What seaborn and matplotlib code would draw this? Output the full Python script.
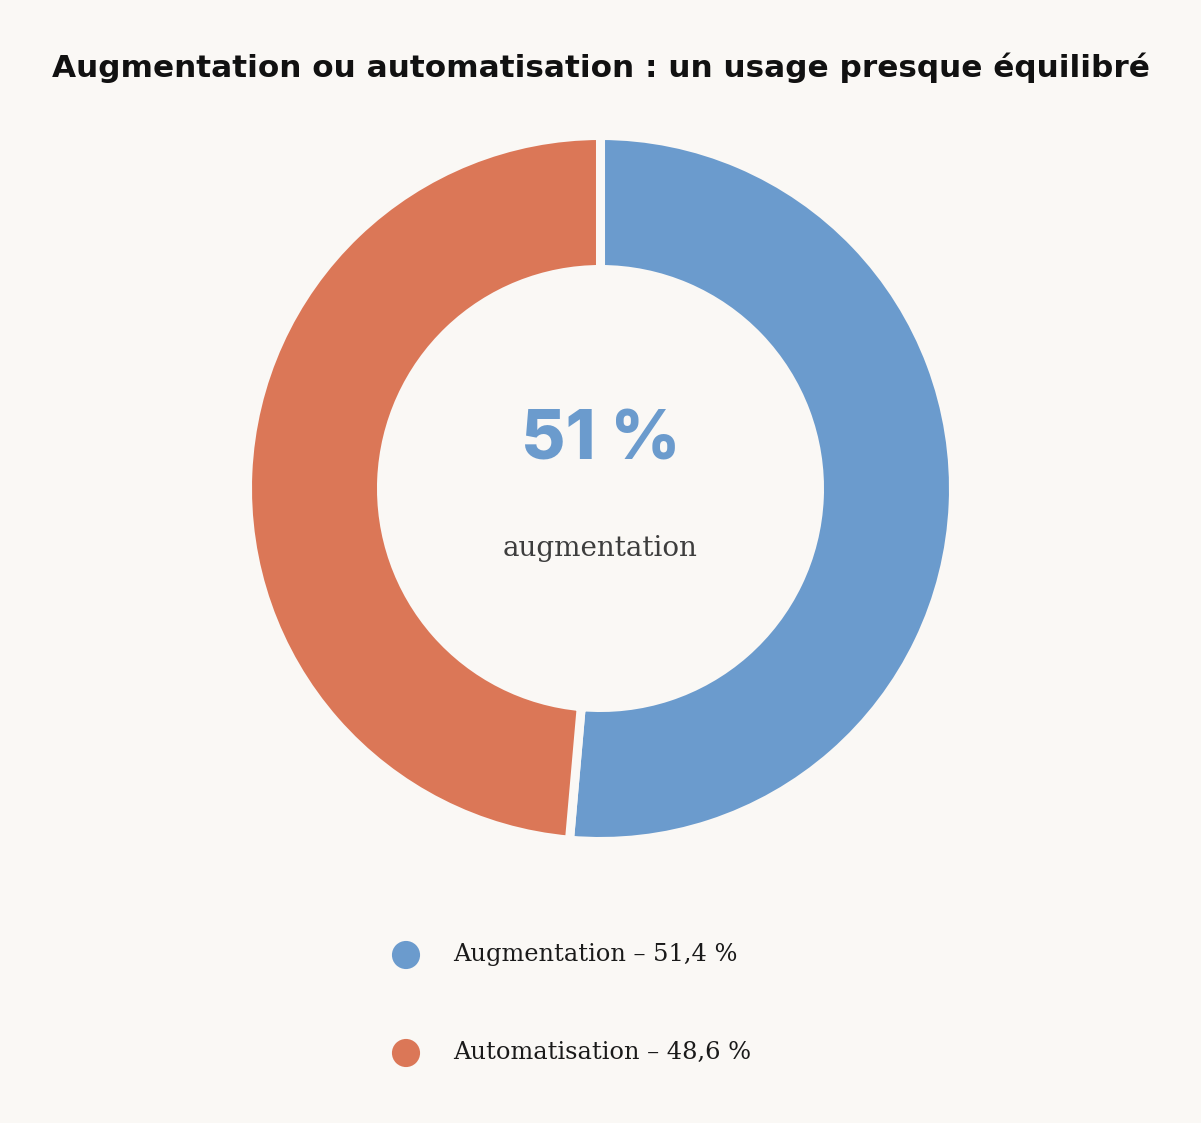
import matplotlib
matplotlib.use("Agg")
import matplotlib.pyplot as plt
import seaborn as sns
import pandas as pd

# ------------------ DATA ------------------
categories = ["Augmentation", "Automatisation"]
shares = [51.4, 48.6]
legend_labels = ["Augmentation – 51,4 %", "Automatisation – 48,6 %"]
center_value = "51 %"
center_label = "augmentation"
title = "Augmentation ou automatisation : un usage presque équilibré"

# ------------------ STYLE ------------------
bg = "#FAF8F5"
colors = ["#6B9BCD", "#DB7757"]
serif = ["DejaVu Serif", "Liberation Serif"]

sns.set_theme(style="white", rc={"figure.facecolor": bg, "axes.facecolor": bg})
plt.rcParams["font.family"] = ["Inter", "DejaVu Sans"]

W, H = 1201, 1123
fig = plt.figure(figsize=(W / 100, H / 100), dpi=100)
ax = fig.add_axes([0, 0, 1, 1])

# pie in pixel-like coords (y measured from bottom); edge stroke eats ~4.5px
cx, cy = 600.5, H - 488.5
r_out = 353
ax.pie(shares, colors=colors, startangle=90, counterclock=False,
       center=(cx, cy), radius=r_out,
       wedgeprops=dict(width=134, edgecolor=bg, linewidth=6.5))

ax.set_xlim(0, W)
ax.set_ylim(0, H)
ax.set_aspect("equal")
ax.axis("off")

# title
ax.text(W / 2, H - 68, title, ha="center", va="center", fontsize=22.4,
        fontweight="bold", color="#111111", family=["DejaVu Sans"])

# centre text
ax.text(cx, H - 442, center_value, ha="center", va="center", fontsize=49,
        fontweight="heavy", color=colors[0])
ax.text(cx, H - 549, center_label, ha="center", va="center", fontsize=20,
        color="#3d3d3d", family=serif)

# legend
leg = pd.DataFrame({"cat": categories, "x": [406, 406], "y": [H - 955, H - 1053]})
sns.scatterplot(data=leg, x="x", y="y", hue="cat", palette=colors, s=410,
                linewidth=0, legend=False, ax=ax)
for (_, row), lab in zip(leg.iterrows(), legend_labels):
    ax.text(453, row["y"] + 1, lab, ha="left", va="center", fontsize=17.4,
            color="#1a1a1a", family=serif)

ax.set_xlim(0, W)
ax.set_ylim(0, H)
ax.axis("off")

fig.savefig("out.png", dpi=100, facecolor=bg)
